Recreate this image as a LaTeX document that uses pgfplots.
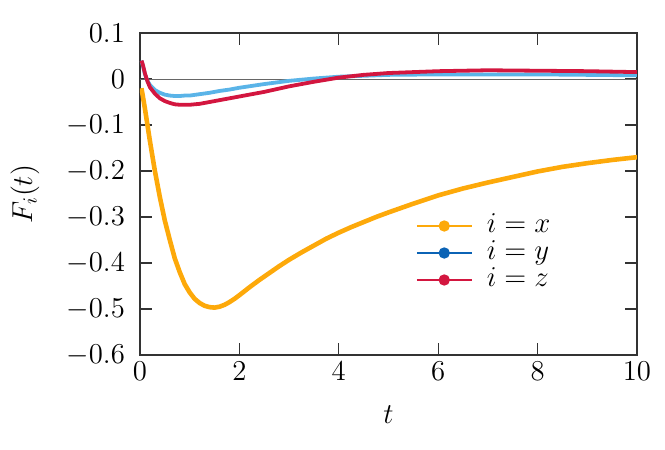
\documentclass[border=0pt]{standalone}
\usepackage{pgfplots}
\pgfplotsset{compat=1.18}
\definecolor{cx}{HTML}{FDA90A}
\definecolor{cyl}{HTML}{5AB4E8}
\definecolor{cy}{HTML}{0B63B5}
\definecolor{cz}{HTML}{D3163F}
\begin{document}
\begin{tikzpicture}
\begin{axis}[
  name=ax,
  at={(0,0)}, anchor=south west,
  scale only axis, width=248.5pt, height=161pt,
  xmin=0, xmax=10, ymin=-0.6, ymax=0.1,
  xtick={0,2,4,6,8,10},
  ytick={-0.6,-0.5,-0.4,-0.3,-0.2,-0.1,0,0.1},
  yticklabel style={/pgf/number format/fixed,/pgf/number format/precision=1, xshift=-4pt},
  tick align=inside, major tick length=6pt,
  axis line style={black!80, line width=0.8pt},
  tick style={black!80, line width=0.6pt},
  font=\Large,
  xlabel={$t$}, ylabel={$F_i(t)$},
  every axis x label/.style={at={(rel axis cs:0.5,0)}, yshift=-30pt, anchor=center},
  every axis y label/.style={at={(rel axis cs:0,0.5)}, xshift=-57.5pt, rotate=90, anchor=center},
  legend style={at={(rel axis cs:0.55,0.45)}, anchor=north west, draw=none, fill=none,
    font=\Large, row sep=0pt, inner sep=1pt,
    nodes={inner ysep=0.5pt, text height=9.5pt, text depth=3pt}},
  legend cell align=left,
  legend image code/.code={\draw[#1, mark repeat=2, mark phase=2] plot coordinates {(0cm,0cm)(0.48cm,0cm)(0.96cm,0cm)};},
]
\addplot[black!60, line width=0.4pt, forget plot] coordinates {(0,0)(10,0)};
\addplot[cx, line width=2.3pt, forget plot] coordinates {
(0.03,-0.020)(0.1,-0.065)(0.2,-0.135)(0.3,-0.200)(0.4,-0.257)(0.5,-0.308)
(0.6,-0.350)(0.7,-0.390)(0.8,-0.420)(0.9,-0.446)(1.0,-0.464)(1.1,-0.478)
(1.2,-0.487)(1.3,-0.493)(1.4,-0.496)(1.5,-0.497)(1.6,-0.495)(1.7,-0.491)
(1.8,-0.485)(1.9,-0.478)(2.0,-0.470)(2.2,-0.453)(2.4,-0.437)(2.6,-0.422)
(2.8,-0.407)(3.0,-0.393)(3.25,-0.377)(3.5,-0.362)(3.75,-0.347)(4.0,-0.334)
(4.25,-0.322)(4.5,-0.311)(4.75,-0.300)(5.0,-0.290)(5.5,-0.271)(6.0,-0.253)
(6.5,-0.238)(7.0,-0.225)(7.5,-0.213)(8.0,-0.201)(8.5,-0.191)(9.0,-0.183)
(9.5,-0.176)(10.0,-0.170)};
\addplot[cyl, line width=1.9pt, forget plot] coordinates {
(0.03,0.040)(0.06,0.028)(0.1,0.010)(0.15,-0.004)(0.2,-0.013)(0.3,-0.024)
(0.4,-0.030)(0.5,-0.034)(0.6,-0.036)(0.7,-0.037)(0.8,-0.037)(0.9,-0.036)
(1.0,-0.036)(1.2,-0.033)(1.4,-0.030)(1.6,-0.026)(1.8,-0.023)(2.0,-0.019)
(2.5,-0.011)(3.0,-0.004)(3.5,0.001)(4.0,0.005)(4.5,0.007)(5.0,0.009)
(6.0,0.010)(7.0,0.010)(8.0,0.010)(9.0,0.009)(10.0,0.008)};
\addplot[cz, line width=1.9pt, forget plot] coordinates {
(0.03,0.040)(0.06,0.030)(0.1,0.012)(0.15,-0.005)(0.2,-0.018)(0.3,-0.032)
(0.4,-0.042)(0.5,-0.048)(0.6,-0.052)(0.7,-0.055)(0.8,-0.056)(0.9,-0.056)
(1.0,-0.056)(1.2,-0.054)(1.4,-0.050)(1.6,-0.046)(1.8,-0.042)(2.0,-0.038)
(2.5,-0.028)(3.0,-0.016)(3.5,-0.006)(4.0,0.003)(4.5,0.009)(5.0,0.013)
(5.5,0.015)(6.0,0.017)(7.0,0.019)(8.0,0.018)(9.0,0.017)(10.0,0.015)};
\addlegendimage{cx, line width=1.2pt, mark=*, mark size=2.2pt}
\addlegendentry{\hspace{5pt}$i=x$}
\addlegendimage{cy, line width=1.2pt, mark=*, mark size=2.2pt}
\addlegendentry{\hspace{5pt}$i=y$}
\addlegendimage{cz, line width=1.2pt, mark=*, mark size=2.2pt}
\addlegendentry{\hspace{5pt}$i=z$}
\end{axis}
\pgfresetboundingbox
\path (-70pt,-47.5pt) rectangle (262.5pt,177.5pt);
\end{tikzpicture}
\end{document}
